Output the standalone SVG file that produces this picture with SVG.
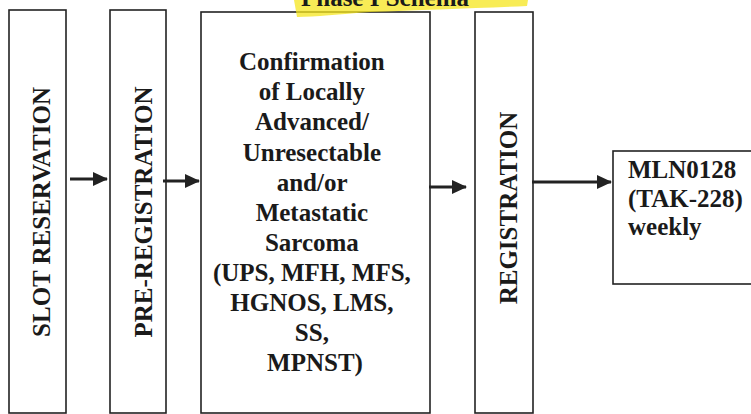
<svg xmlns="http://www.w3.org/2000/svg" width="751" height="414" viewBox="0 0 751 414">
<style>
.box{fill:#fff;stroke:#222;stroke-width:1.6}
.t{font-family:"Liberation Serif","Times New Roman",serif;font-weight:bold;font-size:25px;fill:#1a1a1a}
.c{stroke:#222;stroke-width:2.8;fill:none}
</style>
<defs>
<marker id="ah" markerWidth="15" markerHeight="14" refX="14" refY="7" orient="auto" markerUnits="userSpaceOnUse">
<path d="M0,0 L15,7 L0,14 Z" fill="#222"/>
</marker>
</defs>
<g id="slot">
<rect class="box" x="9" y="10" width="57" height="403"/>
<text class="t" transform="translate(50,212) rotate(-90)" text-anchor="middle">SLOT RESERVATION</text>
</g>
<g id="prereg">
<rect class="box" x="110" y="10" width="56" height="403"/>
<text class="t" transform="translate(152,212) rotate(-90)" text-anchor="middle">PRE-REGISTRATION</text>
</g>
<g id="confirm">
<rect class="box" x="201" y="12" width="229" height="401"/>
<text class="t" text-anchor="middle">
<tspan x="315" y="70">Confirmation</tspan>
<tspan x="315" y="100">of Locally</tspan>
<tspan x="315" y="130">Advanced/</tspan>
<tspan x="315" y="161">Unresectable</tspan>
<tspan x="315" y="191">and/or</tspan>
<tspan x="315" y="221">Metastatic</tspan>
<tspan x="315" y="251">Sarcoma</tspan>
<tspan x="315" y="281">(UPS, MFH, MFS,</tspan>
<tspan x="315" y="311">HGNOS, LMS,</tspan>
<tspan x="315" y="341">SS,</tspan>
<tspan x="315" y="371">MPNST)</tspan>
</text>
</g>
<g id="reg">
<rect class="box" x="475" y="12" width="58" height="401"/>
<text class="t" transform="translate(517,208) rotate(-90)" text-anchor="middle">REGISTRATION</text>
</g>
<g id="drug">
<rect class="box" x="613" y="151" width="145" height="133"/>
<text class="t">
<tspan x="628" y="178">MLN0128</tspan>
<tspan x="628" y="207">(TAK-228)</tspan>
<tspan x="628" y="235">weekly</tspan>
</text>
</g>
<g id="title">
<path d="M294,0 L528,0 L527,6 C480,8 420,10 370,12 C340,14 315,17 297,17 Z" fill="#f5e51e" opacity="0.75"/>
<text class="t" x="385" y="6" text-anchor="middle">Phase I Schema</text>
</g>
<g id="connectors">
<line class="c" x1="70" y1="179" x2="107" y2="179" marker-end="url(#ah)"/>
<line class="c" x1="163" y1="181" x2="199" y2="181" marker-end="url(#ah)"/>
<line class="c" x1="429" y1="187" x2="466" y2="187" marker-end="url(#ah)"/>
<line class="c" x1="532" y1="182" x2="611" y2="182" marker-end="url(#ah)"/>
</g>
</svg>
